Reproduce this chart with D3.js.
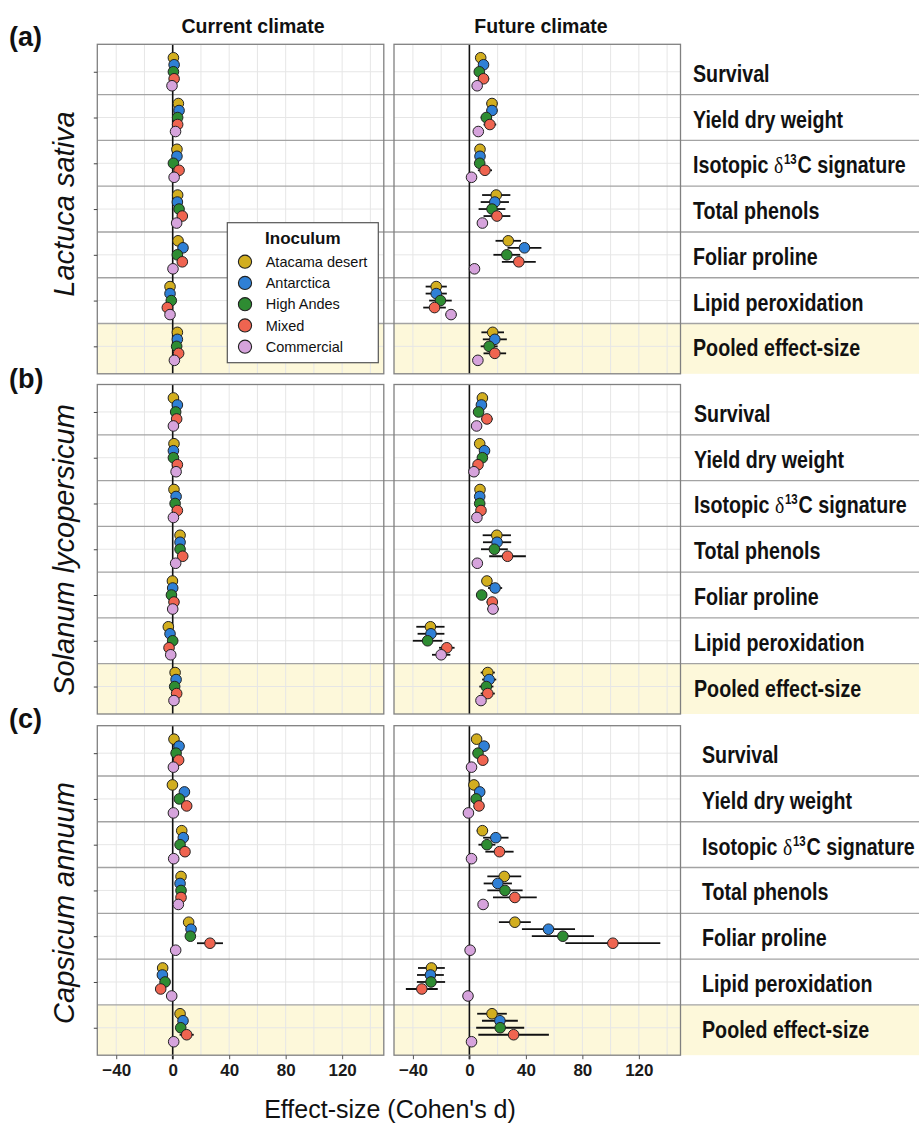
<!DOCTYPE html>
<html>
<head>
<meta charset="utf-8">
<script src="https://cdn.jsdelivr.net/npm/d3@7"></script>
<style>
  body { margin: 0; background: #fff; }
  svg { display: block; }
</style>
</head>
<body>
<svg id="chart" width="919" height="1123"></svg>
<script>
// ---- data ---------------------------------------------------------------
const species = ["Lactuca sativa", "Solanum lycopersicum", "Capsicum annuum"];
const panelTags = ["(a)", "(b)", "(c)"];
const climates = ["Current climate", "Future climate"];
const traits = ["Survival", "Yield dry weight", "Isotopic δ13C signature", "Total phenols",
                "Foliar proline", "Lipid peroxidation", "Pooled effect-size"];
const inocula = ["Atacama desert", "Antarctica", "High Andes", "Mixed", "Commercial"];
const inoculumColors = ["#D2AE1F", "#2F80D6", "#2E8C32", "#EF6450", "#D6A3DC"];
const xTicks = [-40, 0, 40, 80, 120];
const xGrid = [-40, -20, 0, 20, 40, 60, 80, 100, 120, 140];

// effect sizes (Cohen's d): one row per trait, one column per inoculum
const lactucaCurrent = [
  [0.5, 1.0, 0.5, 1.0, -0.5],
  [4.0, 4.5, 3.5, 3.5, 2.0],
  [3.0, 3.0, 0.5, 4.5, 1.0],
  [3.5, 3.3, 4.5, 6.8, 2.8],
  [3.8, 7.3, 3.3, 6.8, 0.2],
  [-1.9, -1.9, -1.0, -3.8, -1.9],
  [3.3, 3.3, 2.8, 4.2, 1.2]
];
const lactucaCurrentCI = [
  [1.5, 1.5, 1.5, 1.5, 1.0],
  [2.0, 2.0, 2.0, 2.0, 1.0],
  [1.5, 1.5, 1.5, 2.0, 1.0],
  [2.0, 2.0, 2.0, 2.5, 1.0],
  [2.0, 2.5, 2.0, 2.5, 1.0],
  [1.5, 1.5, 1.5, 2.0, 1.0],
  [1.5, 1.5, 1.5, 2.0, 1.0]
];
const lactucaFuture = [
  [8.0, 10.0, 7.0, 10.0, 5.5],
  [16.0, 16.0, 12.0, 14.5, 6.3],
  [7.5, 7.5, 7.3, 11.0, 1.5],
  [19.0, 18.0, 16.0, 19.5, 9.2],
  [27.5, 39.0, 26.5, 35.0, 3.6],
  [-23.5, -23.5, -20.5, -24.7, -13.0],
  [16.5, 18.0, 14.0, 18.0, 6.0]
];
const lactucaFutureCI = [
  [3.0, 3.0, 3.0, 4.0, 1.0],
  [4.0, 4.0, 4.0, 4.5, 1.5],
  [3.0, 3.0, 3.0, 5.0, 1.0],
  [10.0, 10.0, 9.5, 9.5, 2.0],
  [9.0, 12.0, 9.5, 12.0, 1.0],
  [7.5, 7.5, 8.0, 8.0, 4.0],
  [8.0, 8.5, 6.0, 8.0, 1.5]
];
const solanumCurrent = [
  [0.5, 3.3, 2.1, 2.8, 0.5],
  [0.9, 0.5, 0.5, 3.3, 2.4],
  [0.9, 2.4, 1.7, 3.3, 0.5],
  [5.2, 5.2, 5.2, 7.1, 2.1],
  [-0.2, 0.0, -0.9, 0.9, 0.0],
  [-3.1, -1.9, 0.0, -2.6, -1.4],
  [1.7, 2.4, 1.4, 2.8, 0.9]
];
const solanumCurrentCI = [
  [1.0, 1.5, 1.5, 1.5, 1.0],
  [1.0, 1.0, 1.0, 1.5, 1.0],
  [1.0, 1.5, 1.5, 1.5, 1.0],
  [2.0, 2.0, 2.0, 2.5, 1.0],
  [1.0, 1.0, 1.0, 1.0, 1.0],
  [1.5, 1.5, 1.5, 1.5, 1.0],
  [1.0, 1.0, 1.0, 1.5, 1.0]
];
const solanumFuture = [
  [9.2, 8.5, 6.5, 12.4, 5.1],
  [7.3, 10.7, 9.2, 6.1, 3.2],
  [7.5, 7.3, 7.3, 8.2, 5.3],
  [19.4, 19.6, 17.7, 27.0, 5.6],
  [12.4, 18.2, 8.7, 16.2, 16.7],
  [-27.6, -27.2, -29.6, -16.0, -20.0],
  [13.0, 14.0, 12.0, 13.0, 8.2]
];
const solanumFutureCI = [
  [3.0, 3.0, 2.0, 4.0, 1.0],
  [2.0, 3.0, 2.5, 2.5, 1.0],
  [3.0, 3.0, 3.0, 3.0, 1.5],
  [10.0, 10.0, 9.5, 13.0, 1.5],
  [3.0, 5.0, 2.0, 4.0, 4.0],
  [10.0, 9.5, 10.5, 5.5, 6.5],
  [5.0, 5.0, 5.0, 5.0, 3.0]
];
const capsicumCurrent = [
  [0.9, 4.5, 2.4, 4.2, 0.5],
  [-0.2, 8.3, 4.7, 9.9, 0.5],
  [6.4, 7.5, 5.2, 8.7, 0.7],
  [5.9, 5.2, 5.9, 5.9, 4.0],
  [11.3, 13.0, 12.5, 26.4, 2.1],
  [-7.1, -7.3, -5.4, -8.5, -0.7],
  [5.2, 7.3, 5.7, 9.9, 0.7]
];
const capsicumCurrentCI = [
  [1.5, 2.0, 1.5, 2.0, 1.0],
  [1.0, 2.5, 2.0, 2.5, 1.0],
  [2.0, 3.0, 2.0, 3.0, 1.0],
  [2.0, 2.0, 2.0, 2.0, 1.5],
  [2.0, 3.5, 3.0, 9.2, 1.0],
  [2.0, 2.0, 2.0, 2.5, 1.0],
  [2.0, 2.5, 2.0, 5.0, 1.0]
];
const capsicumFuture = [
  [5.1, 10.4, 6.1, 9.5, 1.5],
  [3.2, 7.3, 4.8, 6.8, -0.7],
  [9.2, 18.7, 12.4, 21.3, 1.5],
  [24.7, 20.1, 25.2, 32.2, 9.7],
  [32.2, 56.0, 66.2, 101.6, 0.5],
  [-26.9, -27.6, -27.2, -33.7, -1.0],
  [16.0, 21.6, 21.8, 31.3, 1.5]
];
const capsicumFutureCI = [
  [2.0, 2.0, 2.0, 2.0, 1.0],
  [2.0, 2.0, 2.0, 2.0, 1.0],
  [4.0, 9.0, 6.0, 10.0, 1.0],
  [12.0, 10.0, 12.5, 15.5, 3.0],
  [11.3, 18.8, 22.0, 33.6, 1.0],
  [9.5, 9.5, 10.0, 11.3, 1.0],
  [10.5, 12.7, 17.0, 25.0, 1.0]
];

const effects = [
  [lactucaCurrent, lactucaFuture],
  [solanumCurrent, solanumFuture],
  [capsicumCurrent, capsicumFuture]
];
const intervals = [
  [lactucaCurrentCI, lactucaFutureCI],
  [solanumCurrentCI, solanumFutureCI],
  [capsicumCurrentCI, capsicumFutureCI]
];

// ---- layout -------------------------------------------------------------
const FONT = "'Liberation Sans', Arial, sans-serif";
const LABEL_SQUEEZE = 0.82;   // condensed look for the trait labels
const panelLeft = [97.3, 394];
const panelWidth = 286.5;
const panelTop = [44.3, 384.5, 725.7];
const panelHeight = 329.5;
const labelX = [693, 694, 702];
const speciesY = [204, 550, 903];
const tagBaseline = [46, 387.5, 727.5];
const pooledFill = "#FDF8DA";
const radius = 5.3;

const svg = d3.select("#chart");
svg.append("rect").attr("width", 919).attr("height", 1123).attr("fill", "#fff");

const xScales = climates.map((c, j) =>
  d3.scaleLinear().domain([-53.4, 149.5]).range([panelLeft[j], panelLeft[j] + panelWidth]));

const yScales = species.map((s, i) =>
  d3.scalePoint().domain(traits).range([panelTop[i], panelTop[i] + panelHeight]).padding(0.6));

const bgLayer = svg.append("g");
const sepLayer = svg.append("g");
const markLayer = svg.append("g");
const textLayer = svg.append("g");

species.forEach((sp, i) => {
  const y = yScales[i];
  const step = y.step();
  const dodge = d3.scalePoint().domain(inocula).range([-0.306 * step, 0.306 * step]);
  const top = panelTop[i], bottom = panelTop[i] + panelHeight;
  const pooledTop = y(traits[traits.length - 1]) - step / 2;

  // pooled band in the label column
  bgLayer.append("rect")
    .attr("x", panelLeft[1] + panelWidth).attr("y", pooledTop)
    .attr("width", 919 - (panelLeft[1] + panelWidth)).attr("height", bottom - pooledTop)
    .attr("fill", pooledFill);

  climates.forEach((cl, j) => {
    const x = xScales[j];
    const g = bgLayer.append("g");
    const left = panelLeft[j], right = panelLeft[j] + panelWidth;

    g.append("rect").attr("x", left).attr("y", top)
      .attr("width", panelWidth).attr("height", panelHeight).attr("fill", "#fff");
    g.append("rect").attr("x", left).attr("y", pooledTop)
      .attr("width", panelWidth).attr("height", bottom - pooledTop).attr("fill", pooledFill);

    g.selectAll("line.vg").data(xGrid).join("line")
      .attr("x1", d => x(d)).attr("x2", d => x(d))
      .attr("y1", top).attr("y2", bottom)
      .attr("stroke", "#e6e6e6").attr("stroke-width", 1);
    g.selectAll("line.hg").data(traits).join("line")
      .attr("x1", left).attr("x2", right)
      .attr("y1", d => y(d)).attr("y2", d => y(d))
      .attr("stroke", "#e6e6e6").attr("stroke-width", 1);

    const m = markLayer.append("g");
    // zero reference line
    m.append("line")
      .attr("x1", x(0)).attr("x2", x(0)).attr("y1", top)
      .attr("y2", i === species.length - 1 ? bottom + 4 : bottom)
      .attr("stroke", "#111").attr("stroke-width", 1.6);

    const rows = [];
    traits.forEach((t, k) => inocula.forEach((inoc, n) => {
      rows.push({ trait: t, inoc, n, d: effects[i][j][k][n], ci: intervals[i][j][k][n] });
    }));

    m.selectAll("line.ci").data(rows).join("line")
      .attr("x1", d => x(d.d - d.ci)).attr("x2", d => x(d.d + d.ci))
      .attr("y1", d => y(d.trait) + dodge(d.inoc))
      .attr("y2", d => y(d.trait) + dodge(d.inoc))
      .attr("stroke", "#111").attr("stroke-width", 1.8);

    m.selectAll("circle").data(rows).join("circle")
      .attr("cx", d => x(d.d))
      .attr("cy", d => y(d.trait) + dodge(d.inoc))
      .attr("r", radius)
      .attr("fill", d => inoculumColors[d.n])
      .attr("stroke", "#222").attr("stroke-width", 1);

    m.append("rect").attr("x", left).attr("y", top)
      .attr("width", panelWidth).attr("height", panelHeight)
      .attr("fill", "none").attr("stroke", "#808080").attr("stroke-width", 1.3);

    if (i === species.length - 1) {
      const axis = d3.axisBottom(x).tickValues(xTicks).tickSize(4).tickPadding(5)
        .tickFormat(d3.format("d"));
      const ag = m.append("g").attr("transform", `translate(0,${bottom})`).call(axis);
      ag.select(".domain").remove();
      ag.selectAll(".tick line").attr("stroke", "#555");
      ag.selectAll(".tick text").attr("font-family", FONT).attr("font-weight", "bold")
        .attr("font-size", 17).attr("fill", "#1a1a1a");
    }
  });

  // y axis ticks on the left column
  const ya = d3.axisLeft(y).tickSize(3.5).tickFormat("");
  const yg = markLayer.append("g").attr("transform", `translate(${panelLeft[0]},0)`).call(ya);
  yg.select(".domain").remove();
  yg.selectAll(".tick line").attr("stroke", "#444");

  // separators between trait groups, running into the label column
  sepLayer.selectAll(null).data(traits.slice(0, -1)).join("line")
    .attr("x1", panelLeft[0]).attr("x2", 919)
    .attr("y1", d => y(d) + step / 2).attr("y2", d => y(d) + step / 2)
    .attr("stroke", "#a3a3a3").attr("stroke-width", 1.4);

  // trait labels (horizontally squeezed bold sans)
  traits.forEach(t => {
    const txt = textLayer.append("text")
      .attr("transform", `translate(${labelX[i]},${y(t) + 10}) scale(${LABEL_SQUEEZE},1)`)
      .attr("font-family", FONT).attr("font-weight", "bold")
      .attr("font-size", 24).attr("fill", "#111");
    if (t.includes("δ13C")) {
      const [pre, post] = t.split("δ13C");
      txt.append("tspan").text(pre);
      txt.append("tspan").attr("font-family", "'Liberation Serif', 'DejaVu Serif', serif")
        .attr("font-weight", "normal").text("δ");
      txt.append("tspan").attr("font-size", 14).attr("dy", -9).attr("dx", 1).text("13");
      txt.append("tspan").attr("dy", 9).attr("dx", 1).text("C");
      txt.append("tspan").text(post);
    } else {
      txt.text(t);
    }
  });

  // species name
  textLayer.append("text")
    .attr("transform", `translate(74,${speciesY[i]}) rotate(-90)`)
    .attr("text-anchor", "middle")
    .attr("font-family", FONT).attr("font-style", "italic")
    .attr("font-size", 29).attr("fill", "#111")
    .text(sp);

  textLayer.append("text")
    .attr("x", 9).attr("y", tagBaseline[i])
    .attr("font-family", FONT).attr("font-weight", "bold")
    .attr("font-size", 27).attr("fill", "#111")
    .text(panelTags[i]);
});

// column titles
const titleX = [253, 541];
climates.forEach((c, j) => {
  textLayer.append("text")
    .attr("x", titleX[j]).attr("y", 32.5).attr("text-anchor", "middle")
    .attr("font-family", FONT).attr("font-weight", "bold")
    .attr("font-size", 19.5).attr("fill", "#111").text(c);
});

// x axis title
textLayer.append("text")
  .attr("x", 390).attr("y", 1117.5).attr("text-anchor", "middle")
  .attr("font-family", FONT).attr("font-size", 25).attr("fill", "#111")
  .text("Effect-size (Cohen's d)");

// legend
const legend = svg.append("g").attr("transform", "translate(227.3,222.7)");
legend.append("rect").attr("width", 151).attr("height", 140)
  .attr("fill", "#fff").attr("stroke", "#555").attr("stroke-width", 1.2);
legend.append("text").attr("x", 75.5).attr("y", 21.6).attr("text-anchor", "middle")
  .attr("font-family", FONT).attr("font-weight", "bold").attr("font-size", 17)
  .attr("fill", "#111").text("Inoculum");
const keyY = d3.scalePoint().domain(inocula).range([39, 124]);
const items = legend.selectAll("g.item").data(inocula).join("g")
  .attr("transform", d => `translate(0,${keyY(d)})`);
items.append("circle").attr("cx", 17.7).attr("r", 6.6)
  .attr("fill", (d, n) => inoculumColors[n]).attr("stroke", "#222").attr("stroke-width", 1.1);
items.append("text").attr("x", 38.4).attr("y", 5.2)
  .attr("font-family", FONT).attr("font-size", 14.5).attr("fill", "#111").text(d => d);
</script>
</body>
</html>
